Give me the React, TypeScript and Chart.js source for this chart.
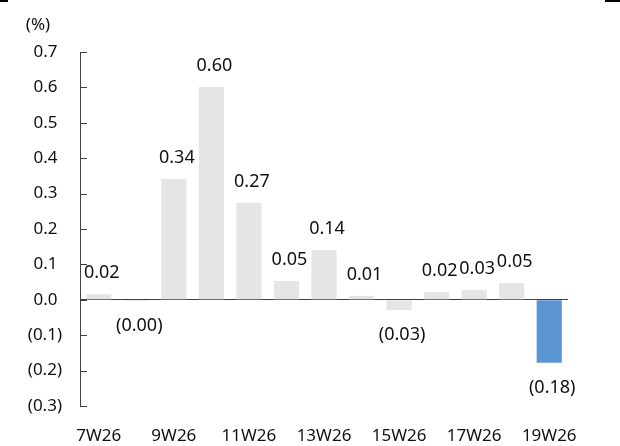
import React, { useEffect, useRef } from "react";
import { Chart, registerables } from "chart.js";

Chart.register(...registerables);

const weeks = ["7W26", "8W26", "9W26", "10W26", "11W26", "12W26", "13W26", "14W26", "15W26", "16W26", "17W26", "18W26", "19W26"];
const changes = [0.016, -0.004, 0.341, 0.601, 0.274, 0.053, 0.14, 0.011, -0.029, 0.022, 0.028, 0.047, -0.178];
const yMin = -0.3;
const yMax = 0.7;
const unitLabel = "(%)";

const FONT = "'Noto Sans', 'Open Sans', sans-serif";
const GRAY = "#e5e5e5";
const BLUE = "#5b95d3";
const AXIS = "#404040";

const fmt = (v: number) => {
  const s = Math.abs(v).toFixed(2);
  return v < 0 ? `(${s})` : s;
};

const fmtTick = (v: number) => {
  const s = Math.abs(v).toFixed(1);
  return v < -1e-9 ? `(${s})` : `${s} `;
};

const decorPlugin = {
  id: "decor",
  afterDraw(chart: any) {
    const { ctx, scales, chartArea } = chart;
    const y = scales.y;
    const x = scales.x;
    ctx.save();
    // inward tick marks on the value axis
    ctx.strokeStyle = AXIS;
    ctx.lineWidth = 1;
    y.ticks.forEach((t: any) => {
      const py = Math.round(y.getPixelForValue(t.value)) + 0.5;
      ctx.beginPath();
      ctx.moveTo(chartArea.left, py);
      ctx.lineTo(chartArea.left + 7, py);
      ctx.stroke();
    });
    // unit label
    ctx.fillStyle = "#111";
    ctx.font = `17px ${FONT}`;
    ctx.textAlign = "center";
    ctx.textBaseline = "middle";
    ctx.fillText(unitLabel, 38, 25);
    // value labels
    ctx.font = `18px ${FONT}`;
    const meta = chart.getDatasetMeta(0);
    meta.data.forEach((_bar: any, i: number) => {
      const v = changes[i];
      const px = x.getPixelForValue(i) + 3;
      const end = y.getPixelForValue(v);
      const py = v >= 0 ? end - 21 : end + 25;
      ctx.fillText(fmt(v), px, py);
    });
    ctx.restore();
  },
};

export default function App() {
  const ref = useRef<HTMLCanvasElement | null>(null);

  useEffect(() => {
    document.body.style.margin = "0";
    const canvas = ref.current!;
    const chart = new Chart(canvas, {
      type: "bar",
      data: {
        labels: weeks,
        datasets: [
          {
            data: changes,
            backgroundColor: changes.map((_, i) => (i === changes.length - 1 ? BLUE : GRAY)),
            borderWidth: 0,
            barPercentage: 0.67,
            categoryPercentage: 1,
          },
        ],
      },
      options: {
        responsive: false,
        animation: false,
        devicePixelRatio: 1,
        layout: { padding: { top: 52, right: 52, bottom: 0, left: 0 } },
        plugins: {
          legend: { display: false },
          tooltip: { enabled: false },
        },
        scales: {
          x: {
            grid: { display: false },
            border: { display: false },
            ticks: {
              autoSkip: false,
              maxRotation: 0,
              padding: 12,
              color: "#111",
              font: { family: FONT, size: 17 },
              callback: (_v: any, i: number) => (i % 2 === 0 ? weeks[i] : ""),
            },
            afterFit: (s: any) => {
              s.height = 40;
            },
          },
          y: {
            min: yMin,
            max: yMax,
            ticks: {
              stepSize: 0.1,
              padding: 18,
              color: "#111",
              font: { family: FONT, size: 17 },
              callback: (v: any) => fmtTick(Number(v)),
            },
            grid: {
              drawTicks: false,
              color: (c: any) => (Math.abs(c.tick.value) < 1e-9 ? AXIS : "transparent"),
              lineWidth: 1,
            },
            border: { display: true, color: AXIS, width: 1 },
            afterFit: (s: any) => {
              s.width = 80;
            },
          },
        },
      },
      plugins: [decorPlugin],
    });
    return () => chart.destroy();
  }, []);

  return (
    <div style={{ position: "relative", width: 620, height: 446, background: "#fff" }}>
      <canvas ref={ref} width={620} height={446} style={{ display: "block" }} />
      <div style={{ position: "absolute", left: 0, top: 0, width: 8, height: 2, background: "#000" }} />
      <div style={{ position: "absolute", left: 605, top: 0, width: 15, height: 2, background: "#000" }} />
    </div>
  );
}
